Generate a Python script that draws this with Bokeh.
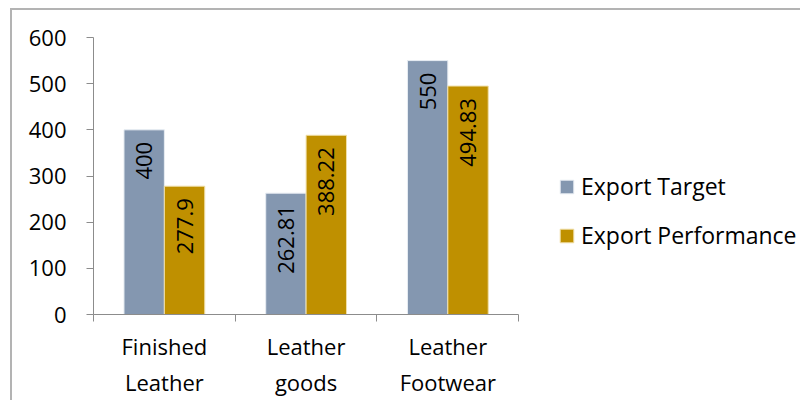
import numpy as np
from bokeh.plotting import figure
from bokeh.models import (ColumnDataSource, FixedTicker, Range1d, Legend, LegendItem)
from bokeh.core.properties import value
from bokeh.embed import file_html
from bokeh.resources import INLINE

categories = ["Finished\nLeather", "Leather\ngoods", "Leather\nFootwear"]
export_target = [400, 262.81, 550]
export_performance = [277.9, 388.22, 494.83]
y_ticks = [0, 100, 200, 300, 400, 500, 600]

FONT = "Open Sans"
C_TARGET = "#8497B0"
C_PERF = "#BF9000"
AXIS_C = "#8C8C8C"

n = len(categories)
centers = np.arange(n) + 0.5
bw = 0.285

src_t = ColumnDataSource(dict(x=centers - bw / 2, top=export_target,
                              lab=[f"{v:g}" for v in export_target]))
src_p = ColumnDataSource(dict(x=centers + bw / 2, top=export_performance,
                              lab=[f"{v:g}" for v in export_performance]))

W, H = 788, 390
FL, FT, FB = 81, 27, 302        # frame edges in canvas pixels
AXIS_W = 424                    # pixel width of the category axis
frame_w = W - FL
p = figure(width=W, height=H, output_backend="svg", toolbar_location=None,
           x_range=Range1d(0, n * frame_w / AXIS_W), y_range=Range1d(0, 600),
           min_border_left=FL, min_border_right=0,
           min_border_top=FT, min_border_bottom=H - FB)
p.outline_line_color = None
p.grid.visible = False
p.background_fill_color = "white"
p.border_fill_color = "white"
p.styles = {"border-left": "2px solid #B3B3B3", "border-top": "2px solid #B3B3B3",
            "margin-left": "10px", "margin-top": "8px", "box-sizing": "content-box"}

rt = p.vbar(x="x", top="top", width=bw, source=src_t, fill_color=C_TARGET,
            line_color="#E8EDF3", line_width=1)
rp = p.vbar(x="x", top="top", width=bw, source=src_p, fill_color=C_PERF,
            line_color="#F0DFA8", line_width=1)

for s in (src_t, src_p):
    p.text(x="x", y="top", text="lab", source=s, angle=np.pi / 2,
           text_align="right", text_baseline="middle", y_offset=12,
           text_font=value(FONT), text_font_size="22px", text_color="black")

# x axis: labels at centers, tick marks at category boundaries
xa = p.xaxis[0]
xa.bounds = (0, n)
xa.ticker = FixedTicker(ticks=list(centers), minor_ticks=list(range(n + 1)))
xa.major_label_overrides = {float(c): lab for c, lab in zip(centers, categories)}
xa.major_tick_line_color = None
xa.minor_tick_in = 0
xa.minor_tick_out = 7
xa.minor_tick_line_color = AXIS_C
xa.axis_line_color = AXIS_C
xa.major_label_text_font = FONT
xa.major_label_text_font_size = "22px"
xa.major_label_text_color = "black"
xa.major_label_standoff = 9

ya = p.yaxis[0]
ya.ticker = FixedTicker(ticks=y_ticks, minor_ticks=[])
ya.major_tick_in = 0
ya.major_tick_out = 7
ya.major_tick_line_color = AXIS_C
ya.minor_tick_line_color = None
ya.axis_line_color = AXIS_C
ya.major_label_text_font = FONT
ya.major_label_text_font_size = "22px"
ya.major_label_text_color = "black"
ya.major_label_standoff = 20

legend = Legend(items=[LegendItem(label="Export Target", renderers=[rt]),
                       LegendItem(label="Export Performance", renderers=[rp])],
                location=(465, 63))
legend.border_line_color = None
legend.background_fill_alpha = 0
legend.padding = 0
legend.margin = 0
legend.glyph_width = 17
legend.glyph_height = 17
legend.label_standoff = 6
legend.label_height = 20
legend.spacing = 17
legend.label_text_font = FONT
legend.label_text_font_size = "23px"
legend.label_text_color = "black"
p.add_layout(legend, "center")

open("out.html", "w").write(file_html(p, INLINE))
